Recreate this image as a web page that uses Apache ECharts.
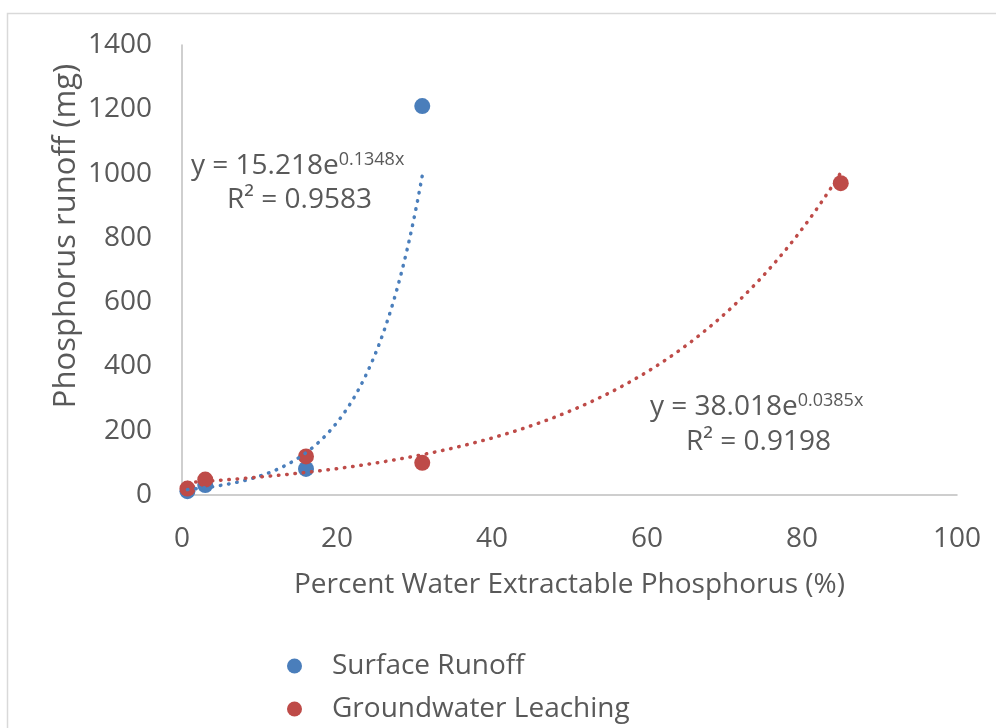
<!DOCTYPE html>
<html>
<head>
<meta charset="utf-8">
<script src="https://cdn.jsdelivr.net/npm/echarts@6/dist/echarts.min.js"></script>
<style>
  html, body { margin: 0; padding: 0; background: #fff; }
  #chart { width: 996px; height: 728px; }
</style>
</head>
<body>
<div id="chart"></div>
<script>
// Percent water extractable P (%) and measured phosphorus runoff (mg)
const surfaceX = [0.7, 3, 16, 31];
const surfaceY = [12, 31, 81, 1210];
const groundX = [0.7, 3, 16, 31, 85];
const groundY = [20, 48, 120, 100, 970];

// Exponential fit coefficients (y = a * e^(b x)) and R² values
const surfaceFit = { a: 15.218, b: 0.1348, r2: '0.9583' };
const groundFit = { a: 38.018, b: 0.0385, r2: '0.9198' };

const xTicks = [0, 20, 40, 60, 80, 100];
const yTicks = [0, 200, 400, 600, 800, 1000, 1200, 1400];

const BLUE = '#4a7ebb';
const RED = '#be4b48';
const TEXT = '#595959';
const FONT = '"Open Sans", "Noto Sans", sans-serif';

function fitCurve(fit, x0, x1, n) {
  const pts = [];
  for (let i = 0; i <= n; i++) {
    const x = x0 + (x1 - x0) * i / n;
    pts.push([x, fit.a * Math.exp(fit.b * x)]);
  }
  return pts;
}

const chart = echarts.init(document.getElementById('chart'), null, { renderer: 'canvas' });

function eqText(fit) {
  return '{m|y = ' + fit.a.toFixed(3) + 'e}{s|' + fit.b.toFixed(4) + 'x}';
}

const eqRich = {
  m: { fontSize: 28, fontFamily: FONT, fill: TEXT, lineHeight: 36 },
  s: { fontSize: 18, fontFamily: FONT, fill: TEXT, lineHeight: 36, padding: [0, 0, 13, 0] }
};

chart.setOption({
  animation: false,
  backgroundColor: '#ffffff',
  grid: { left: 182, right: 39, top: 45, bottom: 233 },
  xAxis: {
    type: 'value', min: 0, max: 100, interval: 20,
    name: 'Percent Water Extractable Phosphorus (%)',
    nameLocation: 'middle', nameGap: 76,
    nameTextStyle: { fontSize: 28, fontFamily: FONT, color: TEXT },
    axisLine: { show: true, onZero: false, lineStyle: { color: '#bfbfbf', width: 1.5 } },
    axisTick: { show: false },
    splitLine: { show: false },
    axisLabel: {
      fontSize: 28, fontFamily: FONT, color: TEXT, margin: 30,
      formatter: v => xTicks.includes(v) ? String(v) : ''
    }
  },
  yAxis: {
    type: 'value', min: 0, max: 1400, interval: 200,
    axisLine: { show: true, onZero: false, lineStyle: { color: '#bfbfbf', width: 1.5 } },
    axisTick: { show: false },
    splitLine: { show: false },
    axisLabel: {
      fontSize: 28, fontFamily: FONT, color: TEXT, margin: 30,
      formatter: v => yTicks.includes(v) ? String(v) : ''
    }
  },
  legend: {
    orient: 'vertical', left: 282, top: 647, itemGap: 15,
    icon: 'circle', itemWidth: 15, itemHeight: 15,
    data: ['Surface Runoff', 'Groundwater Leaching'],
    textStyle: { fontSize: 28, fontFamily: FONT, color: TEXT, padding: [0, 0, 0, 25] }
  },
  graphic: [
    {
      type: 'rect', silent: true, z: -10,
      shape: { x: 7.5, y: 13.5, width: 1200, height: 900 },
      style: { fill: 'none', stroke: '#d9d9d9', lineWidth: 1.5 }
    },
    {
      type: 'text', x: 66, y: 236, rotation: Math.PI / 2,
      style: {
        text: 'Phosphorus runoff (mg)', fontSize: 31, fontFamily: FONT, fill: TEXT,
        align: 'center', verticalAlign: 'middle'
      }
    },
    {
      type: 'text', x: 191, y: 148,
      style: { text: eqText(surfaceFit), rich: eqRich }
    },
    {
      type: 'text', x: 227, y: 186,
      style: { text: 'R² = ' + surfaceFit.r2, fontSize: 28, fontFamily: FONT, fill: TEXT }
    },
    {
      type: 'text', x: 650, y: 389,
      style: { text: eqText(groundFit), rich: eqRich }
    },
    {
      type: 'text', x: 686, y: 428,
      style: { text: 'R² = ' + groundFit.r2, fontSize: 28, fontFamily: FONT, fill: TEXT }
    }
  ],
  series: [
    {
      name: 'Surface Runoff', type: 'scatter', symbolSize: 16, z: 2,
      itemStyle: { color: BLUE, opacity: 1 },
      data: surfaceX.map((x, i) => [x, surfaceY[i]])
    },
    {
      name: 'Groundwater Leaching', type: 'scatter', symbolSize: 16, z: 3,
      itemStyle: { color: RED, opacity: 1 },
      data: groundX.map((x, i) => [x, groundY[i]])
    },
    {
      name: 'Surface Runoff fit', type: 'line', showSymbol: false, smooth: false, z: 5,
      lineStyle: { color: BLUE, width: 3.5, type: [0.5, 7.8], cap: 'round' },
      data: fitCurve(surfaceFit, 0.7, 31, 200)
    },
    {
      name: 'Groundwater Leaching fit', type: 'line', showSymbol: false, smooth: false, z: 5,
      lineStyle: { color: RED, width: 3.5, type: [0.5, 7.8], cap: 'round' },
      data: fitCurve(groundFit, 0.7, 85, 300)
    }
  ]
});
</script>
</body>
</html>
